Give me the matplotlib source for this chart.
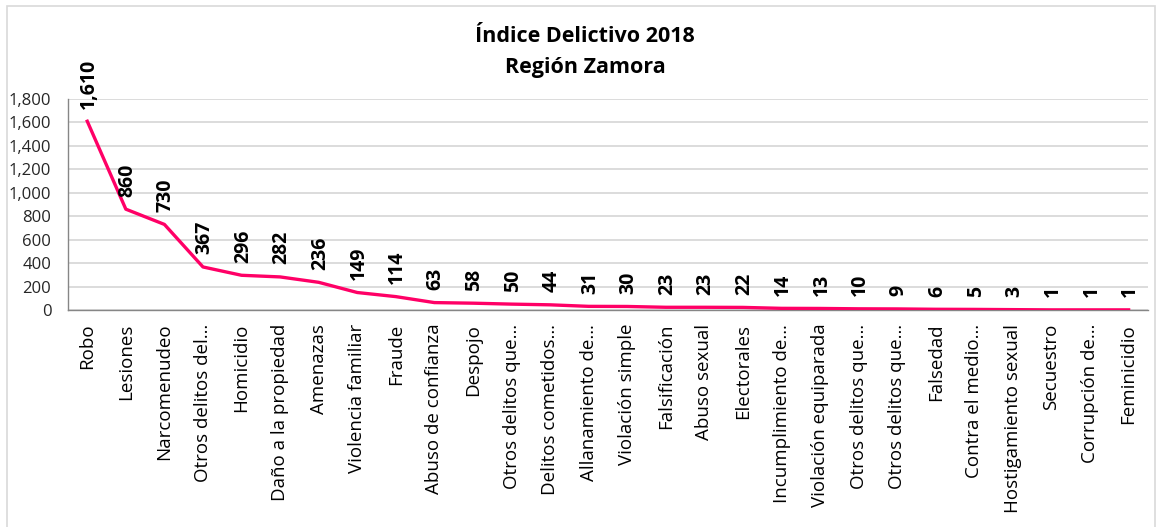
"""
Línea del índice delictivo 2018, Región Zamora.
"""

import matplotlib
matplotlib.use('Agg')
from matplotlib import pyplot
from matplotlib.patches import Rectangle
from matplotlib.ticker import FuncFormatter, MultipleLocator

OUTPUT_FILE = 'out.png'
FIGSIZE_WIDTH_HEIGHT_INCHES = (11.56, 5.27)
PLOT_DOTS_PER_INCH = 100
LINE_COLOR = '#FF0066'
GRID_COLOR = '#D9D9D9'
FONT = ['Open Sans', 'DejaVu Sans']

categories = [
    'Robo', 'Lesiones', 'Narcomenudeo', 'Otros delitos del…', 'Homicidio',
    'Daño a la propiedad', 'Amenazas', 'Violencia familiar', 'Fraude',
    'Abuso de confianza', 'Despojo', 'Otros delitos que…', 'Delitos cometidos…',
    'Allanamiento de…', 'Violación simple', 'Falsificación', 'Abuso sexual',
    'Electorales', 'Incumplimiento de…', 'Violación equiparada',
    'Otros delitos que…', 'Otros delitos que…', 'Falsedad', 'Contra el medio…',
    'Hostigamiento sexual', 'Secuestro', 'Corrupción de…', 'Feminicidio',
]
values = [
    1610, 860, 730, 367, 296, 282, 236, 149, 114, 63, 58, 50, 44, 31,
    30, 23, 23, 22, 14, 13, 10, 9, 6, 5, 3, 1, 1, 1,
]

pyplot.rcParams['font.family'] = FONT


def main() -> None:
    figure = pyplot.figure(figsize=FIGSIZE_WIDTH_HEIGHT_INCHES, dpi=PLOT_DOTS_PER_INCH)
    ax = figure.add_axes([0.0588, 0.4118, 0.9342, 0.4004])

    positions = list(range(len(categories)))
    ax.plot(positions, values, color=LINE_COLOR, lw=2.4, solid_joinstyle='round', zorder=3)

    for x, v in zip(positions, values):
        ax.annotate(f'{v:,}', (x, v), xytext=(1, 9), textcoords='offset points',
                    rotation=90, ha='center', va='bottom', fontsize=14,
                    fontweight='bold', color='black', annotation_clip=False)

    ax.set_xlim(-0.5, len(categories) - 0.5)
    ax.set_ylim(0, 1800)
    ax.yaxis.set_major_locator(MultipleLocator(200))
    ax.yaxis.set_major_formatter(FuncFormatter(lambda v, _: f'{int(v):,}'))
    ax.set_xticks(positions)
    ax.set_xticklabels(categories, rotation=90, fontsize=13.5)
    ax.tick_params(axis='x', length=0, pad=10)
    ax.tick_params(axis='y', length=0, pad=12, labelsize=12, labelcolor='#262626')

    ax.grid(axis='y', color=GRID_COLOR, lw=1.3)
    ax.set_axisbelow(True)
    for side in ('top', 'right'):
        ax.spines[side].set_visible(False)
    for side in ('left', 'bottom'):
        ax.spines[side].set_color('#868686')
        ax.spines[side].set_linewidth(1.0)

    figure.text(0.506, 0.901, 'Índice Delictivo 2018\nRegión Zamora', ha='center',
                va='center', fontsize=15.5, fontweight='bold', linespacing=1.6)

    figure.patches.append(Rectangle((0.006, -0.01), 0.993, 0.999, transform=figure.transFigure,
                                    fill=False, edgecolor='#D9D9D9', lw=1.2))

    figure.savefig(OUTPUT_FILE, dpi=PLOT_DOTS_PER_INCH)


if __name__ == '__main__':
    main()
